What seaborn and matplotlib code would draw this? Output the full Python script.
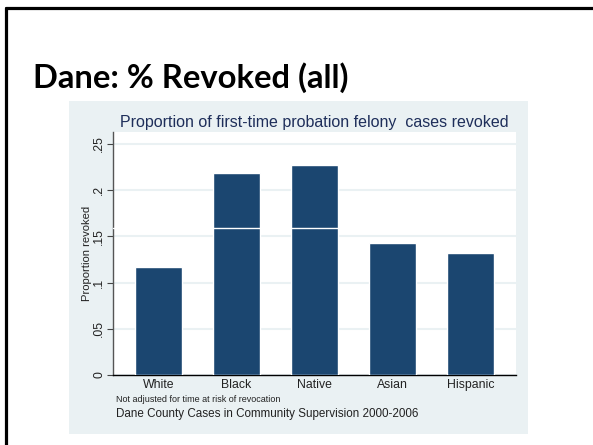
import pandas as pd
import numpy as np
import matplotlib
matplotlib.use('Agg')
import matplotlib.pyplot as plt
from matplotlib.patches import Rectangle
from matplotlib.lines import Line2D
import seaborn as sns

# data
groups = ['White', 'Black', 'Native', 'Asian', 'Hispanic']
revoked = [0.117, 0.219, 0.227, 0.143, 0.132]
ref_line = 0.159
y_ticks = [0, 0.05, 0.1, 0.15, 0.2, 0.25]
y_tick_labels = ['0', '.05', '.1', '.15', '.2', '.25']

NAVY = '#1B4670'
PANEL = '#EAF1F3'
TITLE_C = '#1E2E5A'

sns.set_theme(style='white')
plt.rcParams['font.family'] = ['Liberation Sans', 'DejaVu Sans']

fig = plt.figure(figsize=(5.93, 4.45), dpi=100)
fig.patch.set_facecolor('white')

# slide frame
fig.add_artist(Line2D([5.5 / 593, 1], [1 - 8 / 445, 1 - 8 / 445], color='black', lw=2.3))
fig.add_artist(Line2D([5.5 / 593, 5.5 / 593], [0, 1 - 8 / 445], color='black', lw=2.3))

# stata graph region
fig.add_artist(Rectangle((69 / 593, 11 / 445), 459 / 593, 333 / 445,
                         facecolor=PANEL, edgecolor='none', zorder=0))

fig.text(33 / 593, 1 - 88 / 445, 'Dane: % Revoked (all)', family='Lato',
         fontsize=23.6, fontweight='bold', color='black', va='baseline')

ax = fig.add_axes([113 / 593, 70 / 445, 403 / 593, 243 / 445])
ax.set_facecolor('white')

df = pd.DataFrame({'group': groups, 'revoked': revoked})
sns.barplot(data=df, x='group', y='revoked', order=groups, color=NAVY,
            saturation=1, width=0.6, ax=ax, zorder=3)
ax.axhline(ref_line, color='white', lw=1, zorder=4)

ax.set_xlim(-0.58, 4.58)
ax.set_ylim(0, 0.263)
ax.set_yticks(y_ticks)
ax.set_yticklabels(y_tick_labels, rotation=90, va='center', fontsize=8.8)
ax.tick_params(axis='x', labelsize=8.8, length=0, pad=3, colors='#222222')
ax.tick_params(axis='y', left=True, length=4, width=0.8, color='#444444', pad=1.5, labelcolor='#222222')
ax.yaxis.grid(True, color=PANEL, lw=1.5, zorder=0)
ax.set_axisbelow(True)
ax.set_xlabel('')
ax.set_ylabel('Proportion revoked', fontsize=8.1, color='#222222', labelpad=1)

for s in ['top', 'right']:
    ax.spines[s].set_visible(False)
ax.spines['left'].set_color('#555555')
ax.spines['left'].set_linewidth(1)
ax.spines['bottom'].set_color('black')
ax.spines['bottom'].set_linewidth(1)

fig.text(314.5 / 593, 1 - 122 / 445, 'Proportion of first-time probation felony  cases revoked',
         fontsize=11.5, color=TITLE_C, ha='center', va='center')
fig.text(116 / 593, 1 - 399 / 445, 'Not adjusted for time at risk of revocation',
         fontsize=6.5, color='#222222', va='center')
fig.text(116 / 593, 1 - 414 / 445, 'Dane County Cases in Community Supervision 2000-2006',
         fontsize=8.4, color='#222222', va='center')

fig.savefig('out.png', dpi=100)
